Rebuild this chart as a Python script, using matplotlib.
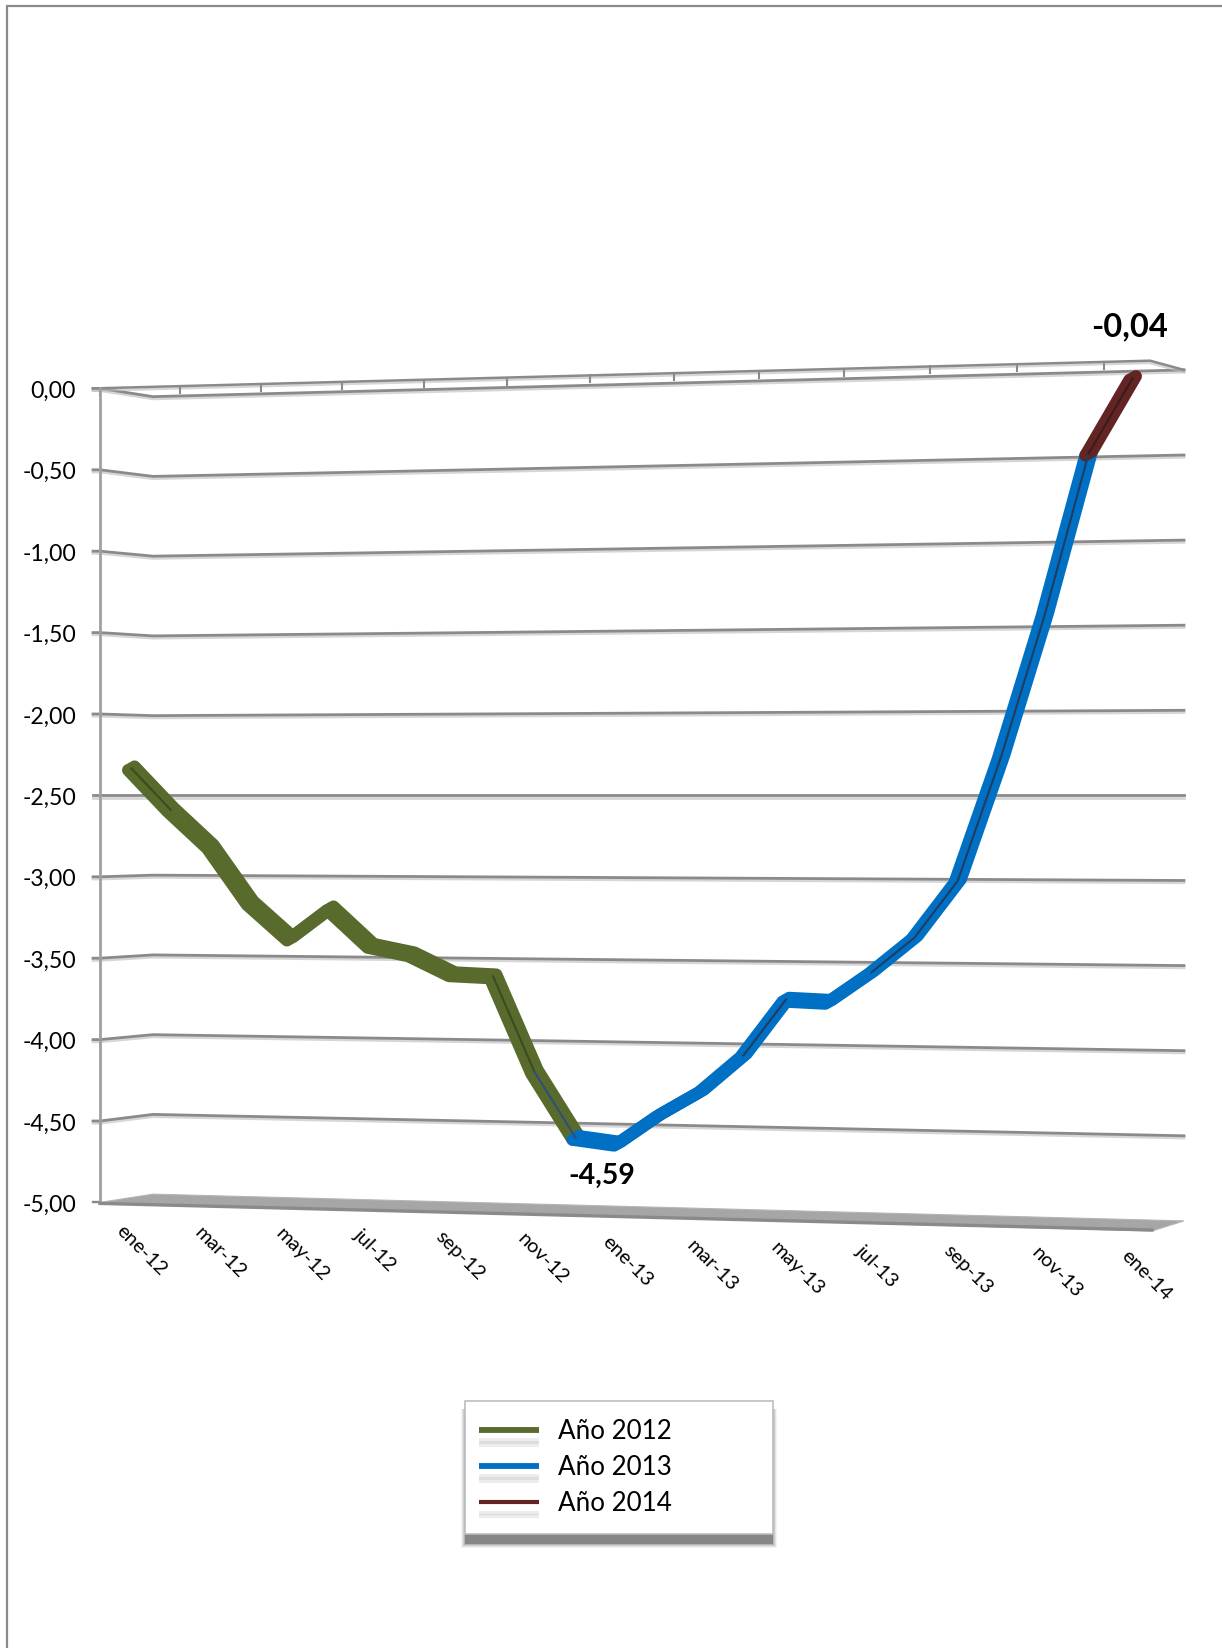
import numpy as np
import matplotlib
matplotlib.use("Agg")
import matplotlib.pyplot as plt
from matplotlib.lines import Line2D
from matplotlib.patches import Rectangle, Polygon
from matplotlib.transforms import Transform, Affine2D
import matplotlib.patheffects as pe

plt.rcParams['font.family'] = ['Lato', 'DejaVu Sans']

# ---- data ----
values_2012 = [-2.33, -2.59, -2.82, -3.17, -3.39, -3.20, -3.43, -3.48, -3.60, -3.61, -4.19, -4.59]
values_2013 = [-4.59, -4.62, -4.44, -4.29, -4.07, -3.73, -3.74, -3.56, -3.35, -3.01, -2.27, -1.43, -0.48]
values_2014 = [-0.48, -0.04]
months_2012 = list(range(0, 12))
months_2013 = list(range(11, 24))
months_2014 = [23, 24]
x_tick_labels = ['ene-12', 'mar-12', 'may-12', 'jul-12', 'sep-12', 'nov-12', 'ene-13',
                 'mar-13', 'may-13', 'jul-13', 'sep-13', 'nov-13', 'ene-14']
y_ticks = [0, -0.5, -1, -1.5, -2, -2.5, -3, -3.5, -4, -4.5, -5]
y_tick_labels = ['0,00', '-0,50', '-1,00', '-1,50', '-2,00', '-2,50', '-3,00', '-3,50', '-4,00', '-4,50', '-5,00']
series_names = ['Año 2012', 'Año 2013', 'Año 2014']

OLIVE, BLUE, BROWN = '#586A2C', '#0070C4', '#632523'
GRID = '#8a8a8a'

W, H = 1222, 1648
fig = plt.figure(figsize=(W / 100, H / 100), dpi=100, facecolor='white')
ax = fig.add_axes([0, 0, 1, 1])
ax.set_xlim(0, W)
ax.set_ylim(H, 0)
ax.axis('off')

# ---- perspective of the 3-D wall ----
Y_MID = 795.4
def month_x(m):
    m = np.asarray(m, float)
    return 131.3 + 39.29 * m + 0.1014 * m ** 2
def wall_k(x):
    return 159.5 + (np.asarray(x, float) - 153) * 10.7 / 1031
def wall_y(x, v):
    return Y_MID - (np.asarray(v, float) + 2.5) * wall_k(x)
def side_y(v):
    return Y_MID - (v + 2.5) * 162.8

class WallTransform(Transform):
    input_dims = 2
    output_dims = 2
    is_separable = False
    has_inverse = False
    def transform_non_affine(self, values):
        values = np.asarray(values, float)
        x = month_x(values[:, 0])
        return np.column_stack([x, wall_y(x, values[:, 1])])

wall = WallTransform() + ax.transData

# ---- frame ----
ax.plot([6.7, 6.7, W], [H, 5.5, 5.5], color='#8a8a8a', lw=1.6, solid_joinstyle='miter', zorder=1)

# ---- walls and grid ----
shadow = [pe.SimpleLineShadow(offset=(0, -1.6), shadow_color='#bbbbbb', alpha=0.6), pe.Normal()]
XL0, XL1, XB0, XB1 = 93, 100, 153, 1184
for v, lab in zip(y_ticks, y_tick_labels):
    ys = side_y(v)
    ax.text(76, ys + 1, lab, ha='right', va='center_baseline', fontsize=16.6, color='black', zorder=6)
    if v == -5:
        ax.plot([XL0, XL1], [ys, ys], color=GRID, lw=1.7, zorder=2)
        continue
    ax.plot([XL0, XL1, XB0, XB1], [ys, ys, wall_y(XB0, v), wall_y(XB1, v)],
            color=GRID, lw=2.0, solid_joinstyle='round', path_effects=shadow, zorder=2)

# top plane of the box
top_y0 = side_y(0)
top_xp, top_yp = 1150, 360.7
ax.plot([XL0, top_xp, XB1], [top_y0, top_yp, wall_y(XB1, 0)], color=GRID, lw=1.8,
        path_effects=shadow, zorder=2)
tick_idx = np.arange(len(x_tick_labels))
tick_xs = 100 + 79.67 * tick_idx + 0.333 * tick_idx ** 2
for tx in tick_xs:
    ty = np.interp(tx, [XL0, top_xp], [top_y0, top_yp])
    ax.plot([tx, tx], [ty, ty + 7], color=GRID, lw=1.5, zorder=2)

# vertical axis
ax.plot([XL1, XL1], [side_y(0), side_y(-5)], color='#a0a0a0', lw=2.0, zorder=2)

# floor
floor_back = (XB0, wall_y(XB0, -5)), (XB1, wall_y(XB1, -5))
ax.add_patch(Polygon([(XL1, side_y(-5)), floor_back[0], floor_back[1], (1152, 1231)],
                     closed=True, facecolor='#a6a6a6', edgecolor='#b5b5b5', lw=0.8, zorder=2))
ax.plot([XL1, 1152], [side_y(-5) + 1, 1230], color='#8a8a8a', lw=2.4, zorder=3)

# ---- x labels ----
lab_x = [141, 220, 302, 375, 460, 543, 627, 712, 797, 877, 968, 1057, 1146]
lab_y = [1250, 1253, 1255, 1250, 1256, 1259, 1261, 1266, 1269, 1266, 1270, 1273, 1275]
for lx, ly, lab in zip(lab_x, lab_y, x_tick_labels):
    ax.text(lx, ly, lab, rotation=-45, rotation_mode='anchor', ha='center', va='center',
            fontsize=14.4, color='black', zorder=6)

# ---- series: a flat ribbon, stroked three times with a small slanted offset ----
LW = 8.8
def ribbon(months, values, color, z):
    for dx, dy in [(-3.2, -1.8), (0, 0), (3.2, 1.8)]:
        ax.plot(months, values, color=color, lw=LW, solid_capstyle='round', solid_joinstyle='round',
                transform=wall + Affine2D().translate(dx, dy), zorder=z)

ribbon(months_2012, values_2012, OLIVE, 4)
ribbon(months_2013, values_2013, BLUE, 4.2)
ribbon(months_2014, values_2014, BROWN, 4.4)

# dark centre stroke on the steep parts of the ribbon
def core(months, values, color, z):
    ax.plot(months, values, color=color, lw=1.5, transform=wall, zorder=z)
core(months_2012[:2], values_2012[:2], '#3d4b1d', 4.5)
core(months_2012[9:11], values_2012[9:11], '#3d4b1d', 4.5)
core(months_2012[10:12], values_2012[10:12], '#2f5079', 4.5)
core(months_2013[4:6], values_2013[4:6], '#1f3d63', 4.5)
core(months_2013[7:13], values_2013[7:13], '#1f3d63', 4.5)
core(months_2014, values_2014, '#3a1c1e', 4.6)

# ---- data labels ----
ax.text(1130, 327, '-0,04', ha='center', va='center', fontsize=23.5, fontweight='bold', color='black', zorder=7)
ax.text(602, 1176, '-4,59', ha='center', va='center', fontsize=20.5, fontweight='bold', color='black', zorder=7)

# ---- legend ----
BX0, BY0, BX1, BY1 = 465, 1401, 773, 1534
for grow, alpha in [(4, 0.07), (3, 0.10), (2, 0.15), (1, 0.2)]:
    ax.add_patch(Rectangle((BX0 - grow, BY0 + 8), BX1 - BX0 + 2 * grow, BY1 - BY0 - 8 + 10 + grow,
                           facecolor='#555555', edgecolor='none', alpha=alpha, zorder=7))
ax.add_patch(Rectangle((BX0, BY1), BX1 - BX0, 10, facecolor='#868686', edgecolor='none', zorder=7.1))
ax.add_patch(Rectangle((BX0, BY0), BX1 - BX0, BY1 - BY0, facecolor='white', edgecolor='#bdbdbd',
                       lw=1.2, zorder=7.2))

hshadow = [pe.SimpleLineShadow(offset=(0, -8), shadow_color='#aaaaaa', alpha=0.22),
           pe.SimpleLineShadow(offset=(0, -10), shadow_color='#aaaaaa', alpha=0.22), pe.Normal()]
handles = [Line2D([], [], color=OLIVE, lw=4.2, solid_capstyle='butt', path_effects=hshadow),
           Line2D([], [], color=BLUE, lw=4.2, solid_capstyle='butt', path_effects=hshadow),
           Line2D([], [], color=BROWN, lw=3.0, solid_capstyle='butt', path_effects=hshadow)]
leg = ax.legend(handles, series_names, loc='upper left', bbox_to_anchor=(466 / W, 1 - 1406 / H),
                bbox_transform=ax.transAxes, frameon=False, fontsize=18.7, handlelength=2.3,
                handletextpad=0.75, labelspacing=0.42, borderpad=0.5, borderaxespad=0,
                labelcolor='black')
leg.set_zorder(8)

fig.savefig('out.png', dpi=100, facecolor='white')
